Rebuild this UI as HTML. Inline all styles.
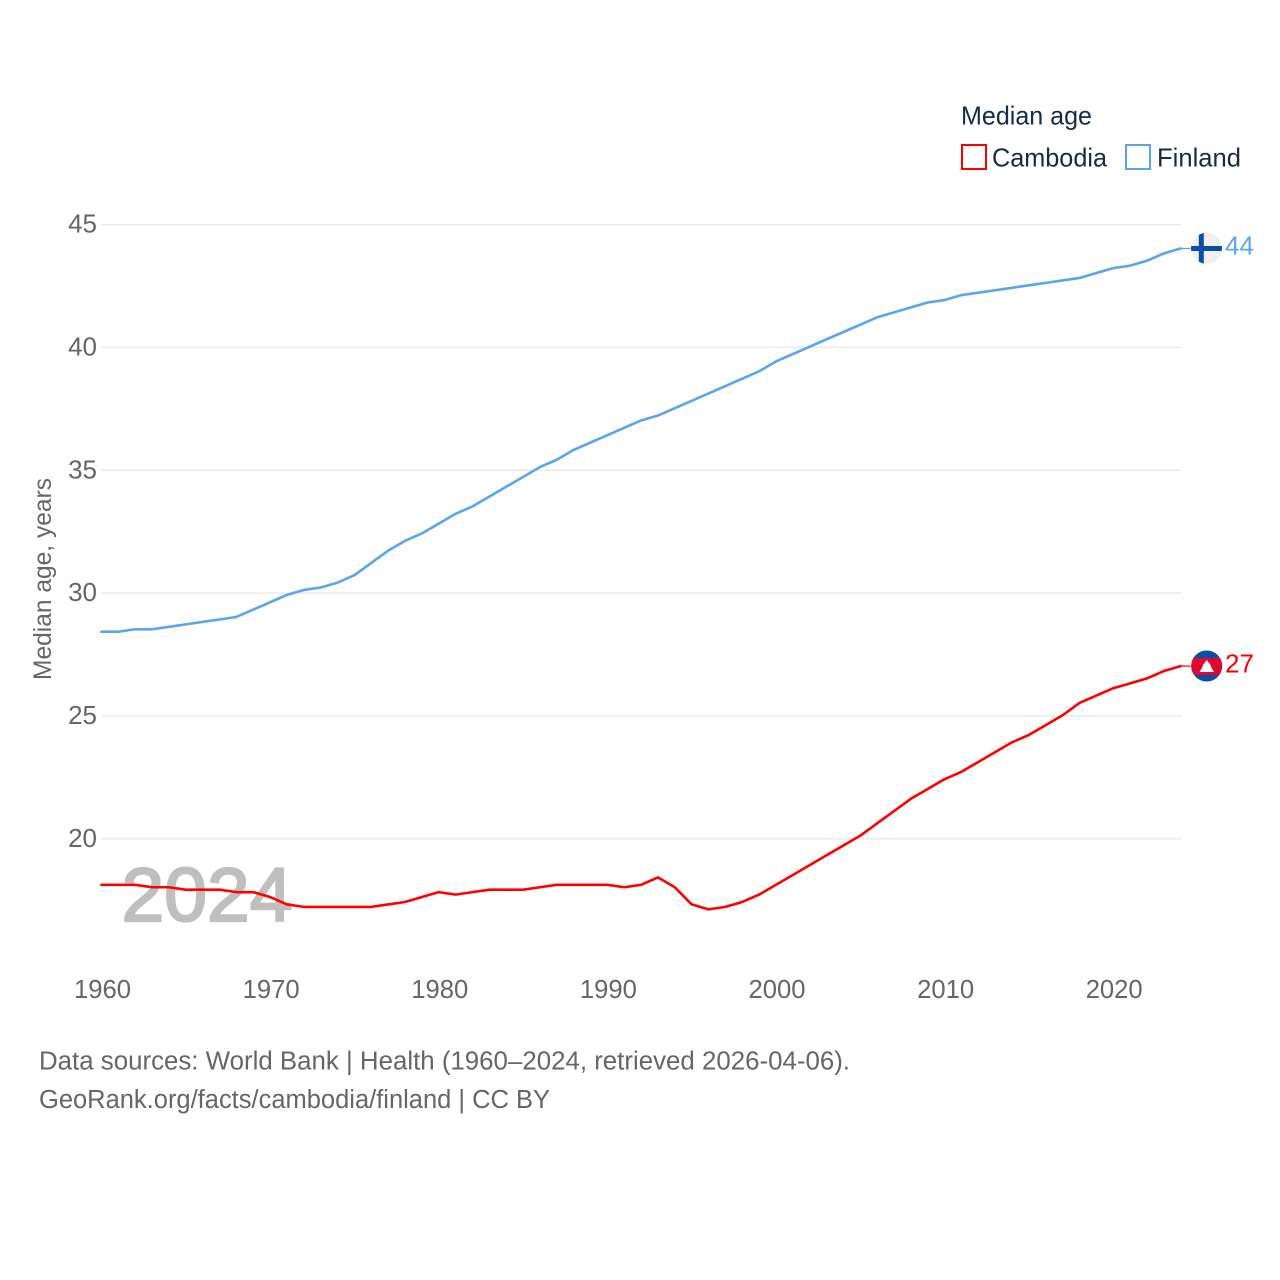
<!DOCTYPE html>
<html lang="en">
<head>
<meta charset="utf-8">
<title>Median age: Cambodia and Finland</title>
<style>
html,body{margin:0;padding:0;background:#fff;}
svg{display:block;font-family:"Liberation Sans",sans-serif;}
</style>
</head>
<body>
<svg id="chart" xmlns="http://www.w3.org/2000/svg" width="1280" height="1280" viewBox="0 0 1280 1280">
  <defs>
    <clipPath id="clip-fi"><circle cx="1206.5" cy="248.300" r="15.500"/></clipPath>
    <clipPath id="clip-kh"><circle cx="1206.700" cy="666" r="15.500"/></clipPath>
  </defs>
  <rect width="1280" height="1280" fill="#ffffff"/>

  <g id="grid"></g>

  <text x="121.500" y="921" font-size="76" fill="#bfbfbf" stroke="#bfbfbf" stroke-width="2.2" textLength="171" lengthAdjust="spacingAndGlyphs">2024</text>

  <g id="y-ticks"></g>
  <g id="x-ticks"></g>

  <text transform="translate(51 680) rotate(-90)" font-size="25" fill="#666666" textLength="202" lengthAdjust="spacingAndGlyphs">Median age, years</text>

  <g id="series" transform="translate(0 -0.7)"></g>

  <g>
    <circle cx="1206.5" cy="248.300" r="15.500" fill="#f0f0f2"/>
    <g clip-path="url(#clip-fi)">
      <rect x="1190" y="246" width="33" height="5" fill="#0a4ea6"/>
      <rect x="1198.800" y="232" width="5" height="33" fill="#0a4ea6"/>
    </g>
  </g>
  <g>
    <g clip-path="url(#clip-kh)">
      <rect x="1190" y="650" width="34" height="33" fill="#0a4ea6"/>
      <rect x="1190" y="658" width="34" height="17" fill="#e0072f"/>
      <path d="M1199.500 672 L1202.500 667 L1203 665 L1206.700 660 L1210.500 665 L1211 667 L1214 672 Z" fill="#ffffff"/>
    </g>
  </g>
  <g id="end-labels"></g>

  <g>
    <text x="961" y="124.500" font-size="26" fill="#152a4e" textLength="131" lengthAdjust="spacingAndGlyphs">Median age</text>
    <g>
      <rect x="962" y="145" width="24" height="24" fill="#ffffff" stroke="#ff0000" stroke-width="2"/>
      <text x="992" y="166.500" font-size="26" fill="#152a4e" textLength="115" lengthAdjust="spacingAndGlyphs">Cambodia</text>
    </g>
    <g>
      <rect x="1126" y="145" width="24" height="24" fill="#ffffff" stroke="#5ba4ee" stroke-width="2"/>
      <text x="1157" y="166.500" font-size="26" fill="#152a4e" textLength="84" lengthAdjust="spacingAndGlyphs">Finland</text>
    </g>
  </g>

  <text x="39" y="1069.500" font-size="25.500" fill="#666666" textLength="811" lengthAdjust="spacingAndGlyphs">Data sources: World Bank | Health (1960–2024, retrieved 2026-04-06).</text>
  <text x="39" y="1108" font-size="25.500" fill="#666666" textLength="511" lengthAdjust="spacingAndGlyphs">GeoRank.org/facts/cambodia/finland | CC BY</text>
</svg>

<script>
const years = [1960,1961,1962,1963,1964,1965,1966,1967,1968,1969,1970,1971,1972,1973,1974,1975,1976,1977,1978,1979,1980,1981,1982,1983,1984,1985,1986,1987,1988,1989,1990,1991,1992,1993,1994,1995,1996,1997,1998,1999,2000,2001,2002,2003,2004,2005,2006,2007,2008,2009,2010,2011,2012,2013,2014,2015,2016,2017,2018,2019,2020,2021,2022,2023,2024];
const finlandValues = [28.4,28.4,28.5,28.5,28.6,28.7,28.8,28.9,29.0,29.3,29.6,29.9,30.1,30.2,30.4,30.7,31.2,31.7,32.1,32.4,32.8,33.2,33.5,33.9,34.3,34.7,35.1,35.4,35.8,36.1,36.4,36.7,37.0,37.2,37.5,37.8,38.1,38.4,38.7,39.0,39.4,39.7,40.0,40.3,40.6,40.9,41.2,41.4,41.6,41.8,41.9,42.1,42.2,42.3,42.4,42.5,42.6,42.7,42.8,43.0,43.2,43.3,43.5,43.8,44.0];
const cambodiaValues = [18.1,18.1,18.1,18.0,18.0,17.9,17.9,17.9,17.8,17.8,17.6,17.3,17.2,17.2,17.2,17.2,17.2,17.3,17.4,17.6,17.8,17.7,17.8,17.9,17.9,17.9,18.0,18.1,18.1,18.1,18.1,18.0,18.1,18.4,18.0,17.3,17.1,17.2,17.4,17.7,18.1,18.5,18.9,19.3,19.7,20.1,20.6,21.1,21.6,22.0,22.4,22.7,23.1,23.5,23.9,24.2,24.6,25.0,25.5,25.8,26.1,26.3,26.5,26.8,27.0];
const yTickValues = [20,25,30,35,40,45];
const xTickValues = [1960,1970,1980,1990,2000,2010,2020];

const SVG_NS = 'http://www.w3.org/2000/svg';
const xScale = (year) => 101.5 + (year - 1960) * (1113.2 - 101.5) / 60;
const yScale = (value) => 838.8 - (value - 20) * (838.8 - 224.6) / 25;

function make(tag, attrs, parent, content) {
  const el = document.createElementNS(SVG_NS, tag);
  for (const key in attrs) el.setAttribute(key, attrs[key]);
  if (content !== undefined) el.textContent = content;
  parent.appendChild(el);
  return el;
}

const gridGroup = document.getElementById('grid');
const yTickGroup = document.getElementById('y-ticks');
yTickValues.forEach((value) => {
  const line = make('line', {x1: 101, x2: 1181, y1: yScale(value), y2: yScale(value), stroke: '#e9e9ec', 'stroke-width': 1.4}, gridGroup);
  
  
  const label = make('text', {x: 97, y: yScale(value) + 8, 'text-anchor': 'end', 'font-size': 26, fill: '#666666'}, yTickGroup, String(value));
  
  
});

const xTickGroup = document.getElementById('x-ticks');
xTickValues.forEach((year) => {
  const label = make('text', {x: xScale(year) + 1, y: 998, 'text-anchor': 'middle', 'font-size': 26, fill: '#666666', textLength: 57, lengthAdjust: 'spacingAndGlyphs'}, xTickGroup, String(year));
  
  
});

const seriesGroup = document.getElementById('series');
const labelGroup = document.getElementById('end-labels');

function drawSeries(key, values, color) {
  const points = values.map((value, i) => xScale(years[i]).toFixed(2) + ',' + yScale(value).toFixed(2)).join(' ');
  const line = make('polyline', {points: points, fill: 'none', stroke: color, 'stroke-width': 2.6, 'stroke-linejoin': 'round', 'stroke-linecap': 'round'}, seriesGroup);
  
  
  const lastValue = values[values.length - 1];
  const lastX = xScale(years[years.length - 1]);
  const lastY = yScale(lastValue);
  const stub = make('line', {x1: lastX, x2: lastX + 10, y1: lastY, y2: lastY, stroke: color, 'stroke-width': 1.2}, seriesGroup);
  
  
  const label = make('text', {x: 1225, y: lastY + 5.5, 'font-size': 26, fill: color}, labelGroup, String(Math.round(lastValue)));
  
  
}

drawSeries('cambodia', cambodiaValues, '#ff0000');
drawSeries('finland', finlandValues, '#5ba4ee');
</script>
</body>
</html>
